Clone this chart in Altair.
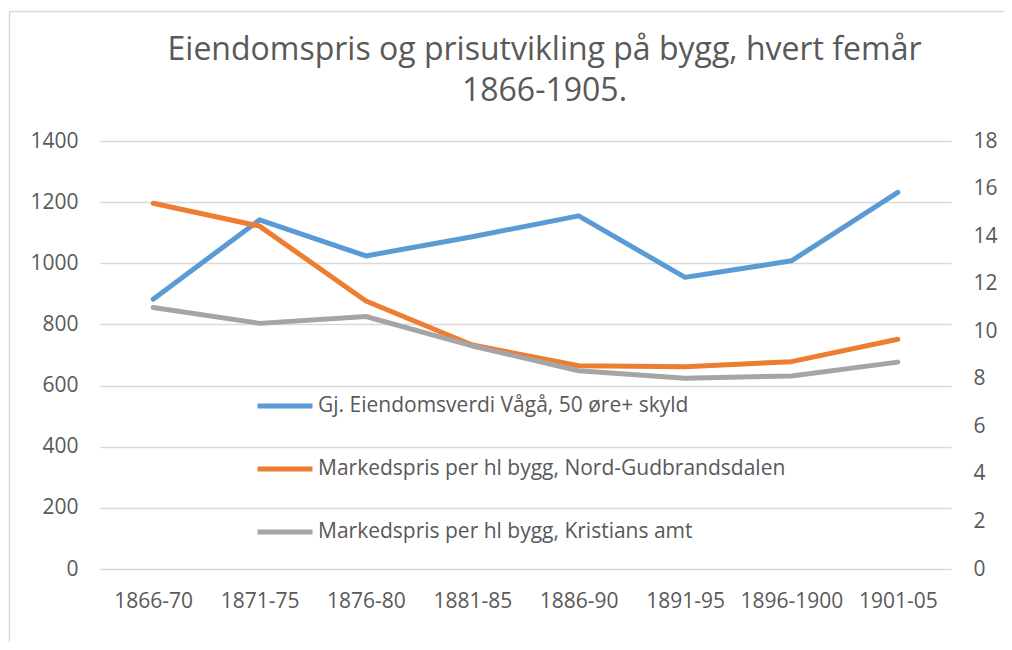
import altair as alt
import pandas as pd

periods = ["1866-70", "1871-75", "1876-80", "1881-85", "1886-90", "1891-95", "1896-1900", "1901-05"]
s_blue = "Gj. Eiendomsverdi Vågå, 50 øre+ skyld"
s_orange = "Markedspris per hl bygg, Nord-Gudbrandsdalen"
s_grey = "Markedspris per hl bygg, Kristians amt"
blue_vals = [882, 1142, 1024, 1087, 1155, 954, 1008, 1232]
orange_vals = [15.38, 14.42, 11.27, 9.42, 8.55, 8.51, 8.72, 9.66]
grey_vals = [11.0, 10.33, 10.62, 9.38, 8.34, 8.02, 8.12, 8.7]

series_names = [s_blue, s_orange, s_grey]
series_colors = ["#5B9BD5", "#ED7D31", "#A5A5A5"]

df_left = pd.DataFrame({"period": periods, "value": blue_vals, "series": s_blue})
df_right = pd.concat([
    pd.DataFrame({"period": periods, "value": orange_vals, "series": s_orange}),
    pd.DataFrame({"period": periods, "value": grey_vals, "series": s_grey}),
])
df_frame = pd.DataFrame({"k": [0]})

FONT = "Open Sans"
TXT = "#595959"
FS = 21

x_enc = alt.X("period:O", sort=periods, title=None,
              scale=alt.Scale(type="point", padding=0.5),
              axis=alt.Axis(labelAngle=0, ticks=False, domain=False,
                            labelPadding=21, labelFontSize=FS, labelColor=TXT, labelFont=FONT, grid=False))

color_enc = alt.Color("series:N",
                      scale=alt.Scale(domain=series_names, range=series_colors),
                      legend=alt.Legend(title=None, orient="none", legendX=155, legendY=235,
                                        direction="vertical", symbolType="stroke",
                                        symbolSize=3025, symbolStrokeWidth=5,
                                        labelFontSize=FS, labelFont=FONT, labelColor=TXT,
                                        labelOffset=3, rowPadding=23, labelLimit=700))

frame_top = alt.Chart(df_frame).mark_rule(stroke="#D9D9D9", strokeWidth=1.5, clip=False).encode(
    x=alt.value(-90.5), x2=alt.value(910), y=alt.value(-129.5)
)
frame_left = alt.Chart(df_frame).mark_rule(stroke="#D9D9D9", strokeWidth=1.5, clip=False).encode(
    x=alt.value(-90.5), y=alt.value(-129.5), y2=alt.value(510)
)

left = alt.Chart(df_left).mark_line(strokeWidth=5, strokeCap="round", strokeJoin="round").encode(
    x=x_enc,
    y=alt.Y("value:Q", title=None,
            scale=alt.Scale(domain=[0, 1400], nice=False),
            axis=alt.Axis(values=list(range(0, 1401, 200)), format="d", domain=False, ticks=False,
                          grid=True, gridColor="#D9D9D9", gridWidth=1.3,
                          labelFontSize=FS, labelFont=FONT, labelColor=TXT, labelPadding=22)),
    color=color_enc,
)

right = alt.Chart(df_right).mark_line(strokeWidth=5, strokeCap="round", strokeJoin="round").encode(
    x=x_enc,
    y=alt.Y("value:Q", title=None,
            scale=alt.Scale(domain=[0, 18], nice=False),
            axis=alt.Axis(orient="right", values=list(range(0, 19, 2)), format="d", domain=False, ticks=False,
                          grid=False, labelFontSize=FS, labelFont=FONT, labelColor=TXT,
                          labelPadding=22)),
    color=color_enc,
)

chart = alt.layer(frame_top, frame_left, left, right).resolve_scale(y="independent").properties(
    width=851, height=428,
    title=alt.TitleParams(["Eiendomspris og prisutvikling på bygg, hvert femår", "1866-1905."],
                          font=FONT, fontSize=32, fontWeight="normal", color=TXT,
                          anchor="middle", dx=19, offset=-97, lineHeight=41),
    autosize="none",
    padding={"left": 92, "top": 133, "right": 53, "bottom": 73},
).configure_view(stroke="transparent", strokeWidth=0).configure_axis(domain=False)

chart.save("out.html", embed_options={"renderer": "svg", "actions": False})
